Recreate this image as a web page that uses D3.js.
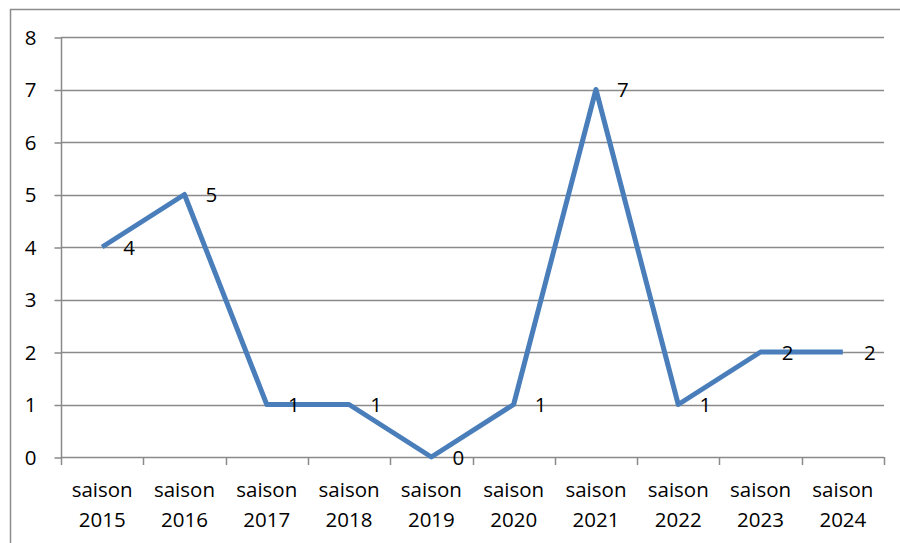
<!DOCTYPE html>
<html>
<head>
<meta charset="utf-8">
<script src="https://cdn.jsdelivr.net/npm/d3@7/dist/d3.min.js"></script>
<style>
  html, body { margin: 0; padding: 0; background: #fff; }
  svg { display: block; }
  text { font-family: "Open Sans", "Liberation Sans", sans-serif; fill: #000; }
</style>
</head>
<body>
<svg id="chart" width="900" height="543"></svg>
<script>
// Seasons and their values
const seasons = ["saison 2015", "saison 2016", "saison 2017", "saison 2018", "saison 2019",
                 "saison 2020", "saison 2021", "saison 2022", "saison 2023", "saison 2024"];
const values = [4, 5, 1, 1, 0, 1, 7, 1, 2, 2];
const yTicks = [0, 1, 2, 3, 4, 5, 6, 7, 8];

const svg = d3.select("#chart");
const W = 900, H = 543;
const plot = { left: 61, right: 884, top: 37, bottom: 457 };
const FS = 20.5;

// Outer chart frame
svg.append("rect")
  .attr("x", 10.5).attr("y", 9.5)
  .attr("width", W + 10).attr("height", H + 10)
  .attr("fill", "none").attr("stroke", "#8c8c8c").attr("stroke-width", 1.5);

const x = d3.scaleBand().domain(seasons).range([plot.left, plot.right]).padding(0);
const y = d3.scaleLinear().domain([0, 8]).range([plot.bottom, plot.top]);

// Horizontal gridlines
svg.append("g")
  .selectAll("line")
  .data(yTicks.filter(d => d > 0))
  .join("line")
  .attr("x1", plot.left).attr("x2", plot.right)
  .attr("y1", d => Math.round(y(d)) + 0.5).attr("y2", d => Math.round(y(d)) + 0.5)
  .attr("stroke", "#8a8a8a").attr("stroke-width", 1.5);

// Y axis
const yAxis = d3.axisLeft(y).tickValues(yTicks).tickSize(7).tickPadding(18).tickFormat(d3.format("d"));
const gy = svg.append("g").attr("transform", `translate(${plot.left + 0.5},0.5)`).call(yAxis);
gy.select(".domain").attr("stroke", "#8a8a8a").attr("stroke-width", 1.5).attr("d", `M0,${plot.top}V${plot.bottom}`);
gy.selectAll(".tick line").attr("stroke", "#8a8a8a").attr("stroke-width", 1.5);
gy.selectAll(".tick text").attr("font-size", FS).style("font-family", "'Open Sans', sans-serif").attr("fill", "#000");

// X axis line and ticks between categories
const gx = svg.append("g");
gx.append("line")
  .attr("x1", plot.left).attr("x2", plot.right)
  .attr("y1", plot.bottom + 0.5).attr("y2", plot.bottom + 0.5)
  .attr("stroke", "#8a8a8a").attr("stroke-width", 1.5);
const boundaries = seasons.map(s => x(s)).concat([x(seasons[seasons.length - 1]) + x.bandwidth()]);
gx.selectAll("line.tick")
  .data(boundaries)
  .join("line")
  .attr("class", "tick")
  .attr("x1", d => Math.round(d) + 0.5).attr("x2", d => Math.round(d) + 0.5)
  .attr("y1", plot.bottom).attr("y2", plot.bottom + 8)
  .attr("stroke", "#8a8a8a").attr("stroke-width", 1.5);

// Category labels, two lines each
const lbl = gx.selectAll("text.cat")
  .data(seasons)
  .join("text")
  .attr("class", "cat")
  .attr("text-anchor", "middle")
  .attr("font-size", FS)
  .attr("transform", d => `translate(${x(d) + x.bandwidth() / 2},0)`);
lbl.append("tspan").attr("x", 0).attr("y", 497).text(d => d.split(" ")[0]);
lbl.append("tspan").attr("x", 0).attr("y", 527).text(d => d.split(" ")[1]);

// Series line
const line = d3.line()
  .x((d, i) => x(seasons[i]) + x.bandwidth() / 2)
  .y(d => y(d));
svg.append("path")
  .datum(values)
  .attr("d", line)
  .attr("fill", "none")
  .attr("stroke", "#4a7ebb")
  .attr("stroke-width", 5)
  .attr("stroke-linejoin", "round");

// Value labels to the right of each point
svg.append("g")
  .selectAll("text")
  .data(values)
  .join("text")
  .attr("x", (d, i) => x(seasons[i]) + x.bandwidth() / 2 + 27)
  .attr("y", d => y(d) + 7.5)
  .attr("text-anchor", "middle")
  .attr("font-size", FS)
  .text(d => d);
</script>
</body>
</html>
